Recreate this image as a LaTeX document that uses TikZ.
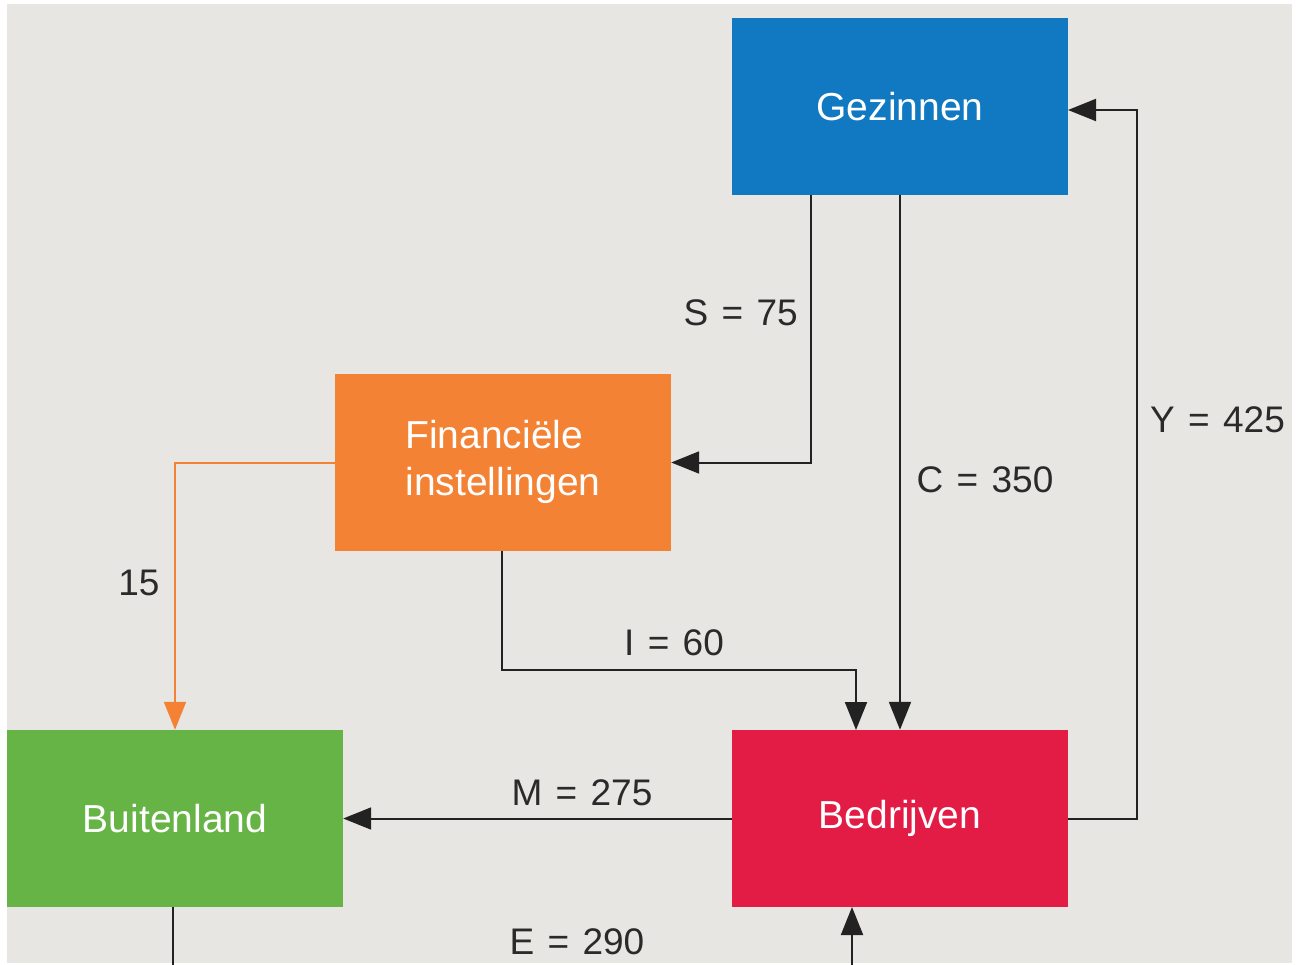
\documentclass[tikz,border=0pt]{standalone}
\usepackage{fontspec}
\setmainfont{Liberation Sans}
\usetikzlibrary{arrows.meta}
\definecolor{bgc}{HTML}{E8E6E2}
\definecolor{gezc}{HTML}{1079C2}
\definecolor{finc}{HTML}{F48234}
\definecolor{buic}{HTML}{66B446}
\definecolor{bedc}{HTML}{E31C46}
\definecolor{linec}{HTML}{222222}
\definecolor{txtc}{HTML}{2A2A2A}
\newcommand\eqsp{\hspace{0.36em}=\hspace{0.36em}}
\tikzset{
  sector/.style={rectangle, minimum width=336pt, minimum height=177pt, inner sep=0pt, text=white, font=\fontsize{39}{48}\selectfont},
  flow/.style={draw=linec, line width=2pt, -{Triangle[length=28pt,width=22pt]}},
  oflow/.style={draw=finc, line width=2pt, -{Triangle[length=28pt,width=22pt]}},
  plain/.style={draw=linec, line width=2pt},
  lbl/.style={text=txtc, font=\fontsize{37}{44}\selectfont, inner sep=0pt}
}
\begin{document}
\begin{tikzpicture}[x=1pt,y=-1pt]
\useasboundingbox (0,0) rectangle (1304,965);
\fill[white] (0,0) rectangle (1304,965);
\fill[bgc] (7,4) rectangle (1292,963);
\node[sector, fill=gezc] (gez) at (900,106.5) {Gezinnen};
\node[sector, fill=finc] (fin) at (503,462.5) {\begin{tabular}{@{}l@{}}Financiële\\[-1pt]instellingen\end{tabular}};
\node[sector, fill=buic] (buit) at (175,818.5) {Buitenland};
\node[sector, fill=bedc] (bed) at (900,818.5) {Bedrijven};
% S
\coordinate (sTop) at (811,195);
\draw[flow] (sTop) |- (fin.east);
\node[lbl, anchor=east] (sl) at (798,313) {S\eqsp75};
% C
\draw[flow] (gez.south) -- (bed.north);
\node[lbl] (cl) at (985,480) {C\eqsp350};
% Y
\coordinate (yR) at (1137,818.5);
\coordinate (yT) at (1137,110);
\coordinate (yG) at (1068,110);
\draw[flow] (bed.east) -- (yR) -- (yT) -- (yG);
\node[lbl, anchor=west] (yl) at (1150,420) {Y\eqsp425};
% I
\coordinate (iS) at (502,551);
\coordinate (iC) at (502,670);
\coordinate (iE) at (856,730);
\draw[flow] (iS) -- (iC) -| (iE);
\node[lbl] (il) at (674,643) {I\eqsp60};
% 15
\draw[oflow] (fin.west) -| (buit.north);
\node[lbl] (fl) at (139,583) {15};
% M
\draw[flow] (bed.west) -- (buit.east);
\node[lbl] (ml) at (582,793) {M\eqsp275};
% E
\coordinate (eA) at (173,907);
\coordinate (eB) at (173,965);
\coordinate (eC) at (852,965);
\coordinate (eD) at (852,907);
\draw[plain] (eA) -- (eB);
\draw[flow] (eC) -- (eD);
\node[lbl] (el) at (577,942) {E\eqsp290};
\end{tikzpicture}
\end{document}
